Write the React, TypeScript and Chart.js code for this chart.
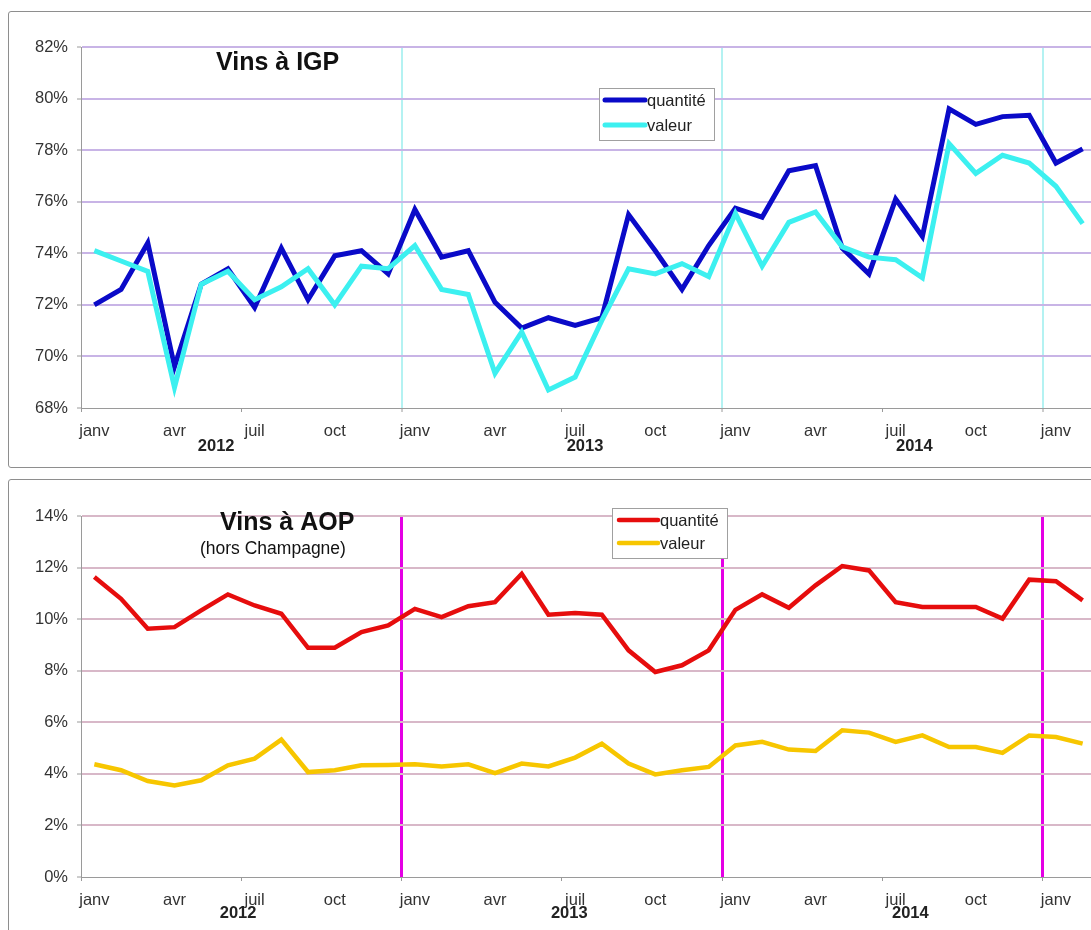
import React, { useEffect, useRef } from 'react';
import { Chart, registerables } from 'chart.js';

Chart.register(...registerables);

const FONT = '"Liberation Sans", Arial, Helvetica, sans-serif';
Chart.defaults.font.family = FONT;

// ---- categories (Jan 2012 .. Feb 2015) ----
const categories = [
  '2012-01', '2012-02', '2012-03', '2012-04', '2012-05', '2012-06', '2012-07', '2012-08', '2012-09', '2012-10', '2012-11', '2012-12',
  '2013-01', '2013-02', '2013-03', '2013-04', '2013-05', '2013-06', '2013-07', '2013-08', '2013-09', '2013-10', '2013-11', '2013-12',
  '2014-01', '2014-02', '2014-03', '2014-04', '2014-05', '2014-06', '2014-07', '2014-08', '2014-09', '2014-10', '2014-11', '2014-12',
  '2015-01', '2015-02',
];
const monthLabels = ['janv', 'févr', 'mars', 'avr', 'mai', 'juin', 'juil', 'août', 'sept', 'oct', 'nov', 'déc'];
const yearLabels = ['2012', '2013', '2014'];

// ---- Vins à IGP (%) ----
const igpQuantite = [
  72.0, 72.6, 74.4, 69.6, 72.8, 73.4, 71.9, 74.2, 72.2, 73.9, 74.1, 73.2,
  75.7, 73.85, 74.1, 72.1, 71.1, 71.5, 71.2, 71.5, 75.5, 74.1, 72.6, 74.3,
  75.75, 75.4, 77.2, 77.4, 74.2, 73.2, 76.1, 74.65, 79.6, 79.0, 79.3, 79.35,
  77.5, 78.05,
];
const igpValeur = [
  74.1, 73.7, 73.3, 68.8, 72.8, 73.3, 72.2, 72.7, 73.4, 72.0, 73.5, 73.4,
  74.3, 72.6, 72.4, 69.35, 70.95, 68.7, 69.2, 71.4, 73.4, 73.2, 73.6, 73.1,
  75.55, 73.5, 75.2, 75.6, 74.25, 73.85, 73.75, 73.05, 78.25, 77.1, 77.8, 77.5,
  76.6, 75.15,
];

// ---- Vins à AOP hors Champagne (%) ----
const aopQuantite = [
  11.63, 10.79, 9.63, 9.69, 10.34, 10.96, 10.53, 10.21, 8.89, 8.89, 9.5, 9.76,
  10.4, 10.08, 10.5, 10.66, 11.76, 10.17, 10.24, 10.17, 8.79, 7.95, 8.21, 8.79,
  10.36, 10.96, 10.44, 11.31, 12.06, 11.89, 10.66, 10.47, 10.47, 10.47, 10.02, 11.53,
  11.47, 10.73,
];
const aopValeur = [
  4.37, 4.14, 3.72, 3.55, 3.75, 4.33, 4.59, 5.33, 4.07, 4.14, 4.33, 4.34,
  4.37, 4.29, 4.37, 4.03, 4.4, 4.29, 4.63, 5.17, 4.4, 3.98, 4.14, 4.27,
  5.1, 5.24, 4.94, 4.89, 5.69, 5.6, 5.24, 5.49, 5.04, 5.04, 4.81, 5.49,
  5.43, 5.17,
];

const seriesNames = ['quantité', 'valeur'];

type PanelCfg = {
  top: number;
  height: number;
  q: number[];
  v: number[];
  qColor: string;
  vColor: string;
  lineWidth: number;
  yMin: number;
  yMax: number;
  gridColor: string;
  yearLineColor: string;
  yearLineWidth: number;
  padTop: number;
  xHeight: number;
  titles: { text: string; x: number; y: number; font: string }[];
  yearPos: number[];
  yearY: number;
  legend: { x: number; y: number; w: number; h: number; rows: number[]; lx1: number; lx2: number; tx: number };
};

const TICK_FONT = 16.5;

const decorPlugin = {
  id: 'decor',
  afterDraw(chart: any) {
    const cfg: PanelCfg = chart.options.plugins.decor.cfg;
    const ctx = chart.ctx;
    const xs = chart.scales.x;
    ctx.save();
    // titles
    ctx.fillStyle = '#111';
    ctx.textAlign = 'left';
    ctx.textBaseline = 'alphabetic';
    cfg.titles.forEach((t) => {
      ctx.font = t.font;
      ctx.fillText(t.text, t.x, t.y);
    });
    // year labels
    ctx.font = `bold ${TICK_FONT}px ${FONT}`;
    ctx.textAlign = 'center';
    ctx.textBaseline = 'middle';
    ctx.fillStyle = '#222';
    yearLabels.forEach((y, i) => {
      ctx.fillText(y, xs.getPixelForValue(cfg.yearPos[i]), cfg.yearY);
    });
    // legend
    const L = cfg.legend;
    ctx.fillStyle = '#fff';
    ctx.fillRect(L.x, L.y, L.w, L.h);
    ctx.strokeStyle = '#a0a0a0';
    ctx.lineWidth = 1;
    ctx.strokeRect(L.x + 0.5, L.y + 0.5, L.w, L.h);
    const colors = [cfg.qColor, cfg.vColor];
    seriesNames.forEach((name, i) => {
      const yy = L.rows[i];
      ctx.strokeStyle = colors[i];
      ctx.lineWidth = cfg.lineWidth;
      ctx.lineCap = 'round';
      ctx.beginPath();
      ctx.moveTo(L.lx1, yy);
      ctx.lineTo(L.lx2, yy);
      ctx.stroke();
      ctx.fillStyle = '#222';
      ctx.font = `${TICK_FONT}px ${FONT}`;
      ctx.textAlign = 'left';
      ctx.textBaseline = 'middle';
      ctx.fillText(name, L.tx, yy + 1);
    });
    ctx.restore();
  },
};

const CANVAS_W = 1120;

function makeConfig(cfg: PanelCfg): any {
  const transparent = 'rgba(0,0,0,0)';
  return {
    type: 'line',
    data: {
      labels: categories,
      datasets: [
        {
          label: seriesNames[0],
          data: cfg.q,
          borderColor: cfg.qColor,
          backgroundColor: cfg.qColor,
          borderWidth: cfg.lineWidth,
          pointRadius: 0,
          tension: 0,
          fill: false,
          borderJoinStyle: 'miter',
        },
        {
          label: seriesNames[1],
          data: cfg.v,
          borderColor: cfg.vColor,
          backgroundColor: cfg.vColor,
          borderWidth: cfg.lineWidth,
          pointRadius: 0,
          tension: 0,
          fill: false,
          borderJoinStyle: 'miter',
        },
      ].reverse(),
    },
    options: {
      responsive: false,
      animation: false,
      devicePixelRatio: 1,
      layout: { padding: { left: 0, top: cfg.padTop, right: CANVAS_W - 1096, bottom: 0 } },
      plugins: {
        legend: { display: false },
        tooltip: { enabled: false },
        title: { display: false },
        decor: { cfg },
      },
      scales: {
        x: {
          type: 'category',
          offset: true,
          grid: {
            offset: true,
            drawOnChartArea: true,
            color: (c: any) => (c.index !== undefined && c.index > 0 && c.index % 12 === 0 ? cfg.yearLineColor : transparent),
            lineWidth: (c: any) => (c.index !== undefined && c.index > 0 && c.index % 12 === 0 ? cfg.yearLineWidth : 1),
            tickColor: (c: any) => (c.index !== undefined && c.index % 6 === 0 ? '#9a9a9a' : transparent),
            tickLength: 4,
            tickWidth: 1,
          },
          border: { display: true, color: '#9a9a9a', width: 1 },
          ticks: {
            autoSkip: false,
            maxRotation: 0,
            minRotation: 0,
            padding: 10,
            color: '#333',
            font: { family: FONT, size: TICK_FONT },
            callback: (_v: any, i: number) => {
              const m = i % 12;
              return m % 3 === 0 ? monthLabels[m] : '';
            },
          },
          afterFit: (s: any) => {
            s.height = cfg.xHeight;
          },
        },
        y: {
          min: cfg.yMin,
          max: cfg.yMax,
          grid: {
            color: (c: any) => (c.tick && c.tick.value === cfg.yMin ? transparent : cfg.gridColor),
            lineWidth: 2,
            tickColor: '#9a9a9a',
            tickLength: 4,
            tickWidth: 1,
          },
          border: { display: true, color: '#9a9a9a', width: 1 },
          ticks: {
            stepSize: 2,
            padding: 9,
            color: '#333',
            font: { family: FONT, size: TICK_FONT },
            callback: (v: any) => `${v}%`,
          },
          afterFit: (s: any) => {
            s.width = 81;
          },
        },
      },
    },
    plugins: [decorPlugin],
  };
}

const topPanel: PanelCfg = {
  top: 0,
  height: 467,
  q: igpQuantite,
  v: igpValeur,
  qColor: '#0a0ac8',
  vColor: '#3cf0f0',
  lineWidth: 5,
  yMin: 68,
  yMax: 82,
  gridColor: '#c8b4e6',
  yearLineColor: '#b4f2f2',
  yearLineWidth: 2,
  padTop: 47,
  xHeight: 59,
  titles: [{ text: 'Vins à IGP', x: 216, y: 70, font: `bold 25px ${FONT}` }],
  yearPos: [4.56, 18.37, 30.7],
  yearY: 446,
  legend: { x: 599, y: 88, w: 115, h: 52, rows: [100, 125], lx1: 605, lx2: 645, tx: 647 },
};

const bottomPanel: PanelCfg = {
  top: 470,
  height: 460,
  q: aopQuantite,
  v: aopValeur,
  qColor: '#e60d0d',
  vColor: '#f7c600',
  lineWidth: 4.5,
  yMin: 0,
  yMax: 14,
  gridColor: '#d8b8c8',
  yearLineColor: '#e400e4',
  yearLineWidth: 3,
  padTop: 46,
  xHeight: 53,
  titles: [
    { text: 'Vins à AOP', x: 220, y: 60, font: `bold 25px ${FONT}` },
    { text: '(hors Champagne)', x: 200, y: 84, font: `17.5px ${FONT}` },
  ],
  yearPos: [5.38, 17.78, 30.55],
  yearY: 443,
  legend: { x: 612, y: 38, w: 115, h: 50, rows: [50, 73], lx1: 619, lx2: 658, tx: 660 },
};

function Panel({ cfg }: { cfg: PanelCfg }) {
  const ref = useRef<HTMLCanvasElement | null>(null);
  useEffect(() => {
    if (!ref.current) return;
    const chart = new Chart(ref.current, makeConfig(cfg));
    return () => chart.destroy();
  }, [cfg]);
  return (
    <canvas
      ref={ref}
      width={CANVAS_W}
      height={cfg.height}
      style={{ position: 'absolute', left: 0, top: cfg.top, width: CANVAS_W, height: cfg.height }}
    />
  );
}

export default function App() {
  return (
    <div
      style={{
        position: 'fixed',
        left: 0,
        top: 0,
        width: 1091,
        height: 930,
        overflow: 'hidden',
        background: '#fff',
      }}
    >
      <div
        style={{
          position: 'absolute',
          left: 8,
          top: 11,
          width: 1200,
          height: 455,
          border: '1.5px solid #8e8e8e',
          borderRadius: 3,
          background: '#fff',
        }}
      />
      <div
        style={{
          position: 'absolute',
          left: 8,
          top: 479,
          width: 1200,
          height: 600,
          border: '1.5px solid #8e8e8e',
          borderRadius: 3,
          background: '#fff',
        }}
      />
      <Panel cfg={topPanel} />
      <Panel cfg={bottomPanel} />
    </div>
  );
}
